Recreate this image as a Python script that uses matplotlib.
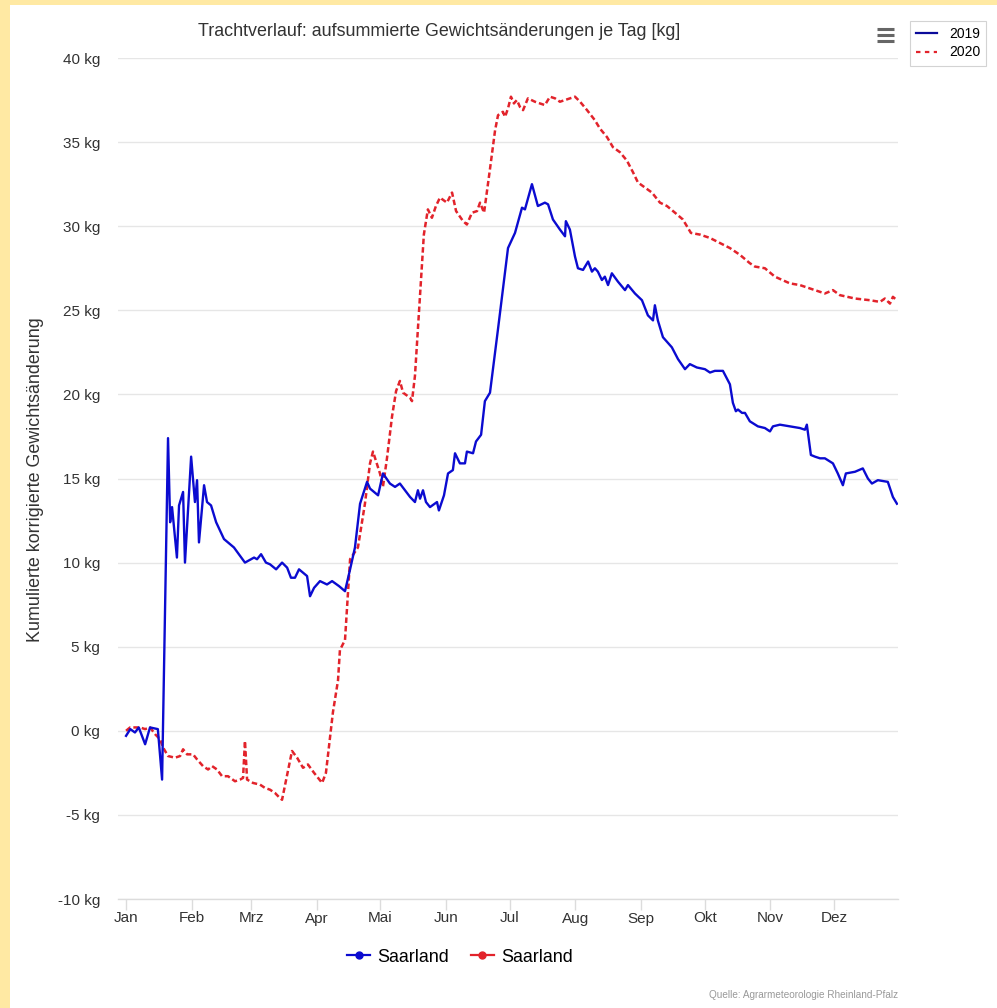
import matplotlib
matplotlib.use("Agg")
import matplotlib.pyplot as plt
from matplotlib.lines import Line2D
from matplotlib.patches import Rectangle

# ---------------- data ----------------
month_labels = ["Jan", "Feb", "Mrz", "Apr", "Mai", "Jun", "Jul", "Aug", "Sep", "Okt", "Nov", "Dez"]
month_days = [0, 31, 59, 90, 120, 151, 181, 212, 243, 273, 304, 334]
y_ticks = [-10, -5, 0, 5, 10, 15, 20, 25, 30, 35, 40]

days_2019 = [0, 2, 4.2, 6, 9, 11.3, 15, 17, 19.8, 20.8, 21.7, 24, 25, 26.9, 27.8, 30.7,
             32.5, 33.5, 34.4, 36.8, 38.2, 40.1, 42.5, 46.2, 50.9, 56.1, 60.4, 61.8,
             63.7, 66, 67.9, 70.8, 73.6, 76, 77.8, 79.7, 81.6, 85.4, 86.8, 88.7, 91.5,
             94.8, 97.2, 100.5, 103.3, 105.7, 108, 110.4, 113.7, 115.1, 118.9, 121.2,
             124.5, 126.9, 129.2, 134, 136.3, 137.7, 138.7, 140.1, 141.5, 143.4, 146.7,
             147.6, 150, 151.9, 154.2, 155.2, 157.5, 159.9, 160.8, 163.7, 165.1, 167.5,
             169.3, 171.7, 175.5, 180.2, 183.5, 186.8, 188.2, 191.5, 194.3, 197.6, 199.1,
             201.4, 204.7, 207.1, 207.5, 209.4, 211.8, 213.2, 215.6, 218, 219.8, 221.2,
             222.6, 224.5, 225.9, 227.4, 229.2, 232.1, 235.4, 236.8, 240.1, 243.4, 246.2,
             248.6, 249.5, 250.9, 253.3, 257.5, 260.4, 263.7, 266, 269.3, 273.1, 275.5,
             277.8, 281.6, 284.9, 286.3, 287.7, 288.7, 290.6, 292, 294.3, 298.1, 301.4,
             303.8, 305.2, 308.5, 313.2, 317.9, 320.3, 321.2, 323.1, 325, 327.4, 329.7,
             333.5, 335.8, 338.2, 339.6, 343.9, 347.6, 350, 351.9, 354.7, 359.4, 361.8, 363.7]
vals_2019 = [-0.3, 0.1, -0.1, 0.2, -0.8, 0.2, 0.1, -2.9, 17.4, 12.4, 13.3, 10.3, 13.4,
             14.2, 10.0, 16.3, 13.6, 14.9, 11.2, 14.6, 13.6, 13.4, 12.4, 11.4, 10.9, 10.0,
             10.3, 10.2, 10.5, 10.0, 9.9, 9.6, 10.0, 9.7, 9.1, 9.1, 9.6, 9.2, 8.0, 8.5,
             8.9, 8.7, 8.9, 8.6, 8.3, 9.6, 10.9, 13.5, 14.8, 14.4, 14.0, 15.3, 14.7, 14.5,
             14.7, 13.9, 13.6, 14.3, 13.8, 14.3, 13.6, 13.3, 13.6, 13.1, 14.0, 15.3, 15.5,
             16.5, 15.9, 15.9, 16.6, 16.5, 17.2, 17.6, 19.6, 20.1, 23.9, 28.7, 29.6, 31.1,
             31.0, 32.5, 31.2, 31.4, 31.3, 30.4, 29.8, 29.4, 30.3, 29.8, 28.2, 27.5, 27.4,
             27.9, 27.3, 27.5, 27.3, 26.8, 27.0, 26.5, 27.2, 26.7, 26.2, 26.5, 26.0, 25.6,
             24.7, 24.4, 25.3, 24.4, 23.4, 22.8, 22.1, 21.5, 21.8, 21.6, 21.5, 21.3, 21.4,
             21.4, 20.6, 19.5, 19.0, 19.1, 18.9, 18.9, 18.4, 18.1, 18.0, 17.8, 18.1, 18.2,
             18.1, 18.0, 17.9, 18.2, 16.4, 16.3, 16.2, 16.2, 15.9, 15.3, 14.6, 15.3, 15.4,
             15.6, 15.0, 14.7, 14.9, 14.8, 13.9, 13.5]

days_2020 = [0, 1.9, 4.2, 6.6, 9, 11.3, 13.7, 16, 17.5, 19.8, 23.1, 25.5, 26.9, 28.8,
             31.6, 33.5, 36.3, 38.7, 40.6, 42.9, 45.3, 48.1, 51.4, 53.8, 55.2, 56.1, 57.1,
             59.9, 63.2, 65.6, 67.9, 70.3, 72.6, 73.6, 78.3, 80.7, 83.5, 85.8, 88.7, 92.5,
             94.3, 97.6, 100, 100.9, 103.3, 105.7, 109.4, 112.7, 115.1, 116.5, 119.8,
             121.2, 123.1, 125.5, 127.4, 129.2, 130.7, 134, 134.9, 136.3, 137.7, 138.7,
             140.5, 142.4, 144.3, 146.2, 148.1, 151.4, 153.8, 155.7, 159, 160.8, 163.2,
             165.6, 167, 168.9, 171.7, 174.1, 175.5, 177.8, 178.8, 180.2, 181.6, 183,
             184.4, 185.8, 187.3, 189.6, 192.9, 197.6, 200, 202.4, 204.7, 207.1, 209.4,
             211.8, 214.2, 217.5, 221.2, 223.6, 226.9, 229.7, 233, 236.3, 239.2, 241.5,
             244.8, 248.1, 251.9, 255.2, 259, 262.7, 266.5, 270.8, 275.5, 280.2, 284.9,
             289.6, 294.3, 296.7, 301.4, 306.1, 313.2, 317.9, 325, 329.7, 333.5, 336.8,
             343.9, 350.9, 355.7, 358, 360.4, 361.8, 363.7]
vals_2020 = [0.0, 0.2, 0.2, 0.2, 0.1, 0.2, -0.2, -0.5, -1.0, -1.5, -1.6, -1.5, -1.1,
             -1.4, -1.4, -1.7, -2.1, -2.3, -2.1, -2.3, -2.7, -2.7, -3.0, -2.9, -2.8, -0.6,
             -2.9, -3.1, -3.2, -3.4, -3.5, -3.7, -4.0, -4.1, -1.2, -1.6, -2.2, -2.0, -2.5,
             -3.1, -2.5, 1.1, 3.0, 4.8, 5.4, 10.2, 10.9, 13.5, 15.9, 16.6, 15.3, 14.5, 16.2,
             18.7, 20.2, 20.8, 20.1, 19.8, 19.6, 21.1, 23.9, 26.0, 29.5, 31.0, 30.5, 31.2,
             31.7, 31.4, 32.0, 30.9, 30.3, 30.1, 30.8, 30.9, 31.4, 30.8, 33.4, 35.7, 36.6,
             36.8, 36.5, 37.0, 37.7, 37.3, 37.5, 37.1, 36.9, 37.6, 37.4, 37.2, 37.7, 37.6,
             37.4, 37.5, 37.6, 37.7, 37.4, 36.9, 36.3, 35.8, 35.3, 34.7, 34.4, 33.9, 33.2,
             32.6, 32.3, 32.0, 31.4, 31.2, 30.8, 30.4, 29.6, 29.5, 29.3, 29.0, 28.7, 28.3,
             27.8, 27.6, 27.5, 27.0, 26.6, 26.5, 26.2, 26.0, 26.2, 25.9, 25.7, 25.6, 25.5,
             25.7, 25.4, 25.8, 25.6]

series_names = ["2019", "2020"]
station_name = "Saarland"
title_text = "Trachtverlauf: aufsummierte Gewichtsänderungen je Tag [kg]"
ylabel_text = "Kumulierte korrigierte Gewichtsänderung"
source_text = "Quelle: Agrarmeteorologie Rheinland-Pfalz"

# ---------------- styling ----------------
W, H = 997, 1008
BLUE = "#0b0bd0"
RED = "#e2232b"
plt.rcParams["font.family"] = ["Liberation Sans", "DejaVu Sans"]

fig = plt.figure(figsize=(W / 100, H / 100), dpi=100)
fig.patch.set_facecolor("#ffe9a3")
fig.patches.append(Rectangle((10 / W, 0), 1 - 10 / W, 1 - 5 / H, transform=fig.transFigure,
                             facecolor="white", edgecolor="none", zorder=-10))

left, right = 118 / W, 898 / W
top, bottom = 1 - 58 / H, 1 - 899 / H
ax = fig.add_axes([left, bottom, right - left, top - bottom])
ax.set_facecolor("none")
ax.set_zorder(1)

dash = (0, (2.2, 1.2))
ax.plot(days_2019, vals_2019, color=BLUE, lw=1.7, solid_joinstyle="round", zorder=3)
ax.plot(days_2020, vals_2020, color=RED, lw=1.8, linestyle=dash, zorder=2)

ax.set_xlim(-3.8, 364.2)
ax.set_ylim(-10, 40)
ax.set_yticks(y_ticks)
ax.set_yticklabels([f"{v} kg" for v in y_ticks])
ax.set_xticks(month_days)
ax.set_xticklabels(month_labels)
ax.grid(axis="y", color="#e6e6e6", lw=1)
ax.set_axisbelow(True)
for s in ["top", "right", "left"]:
    ax.spines[s].set_visible(False)
ax.spines["bottom"].set_color("#dcdcdc")
ax.spines["bottom"].set_linewidth(1)
ax.tick_params(axis="y", length=0, pad=13, labelsize=11, labelcolor="#333333")
ax.tick_params(axis="x", length=8, color="#dcdcdc", width=1, pad=1, labelsize=11,
               labelcolor="#333333")

fig.text(439 / W, 1 - 31 / H, title_text, ha="center", va="center", fontsize=12.9, color="#333333")
fig.text(36 / W, 1 - 480 / H, ylabel_text, rotation=90, ha="center", va="center",
         fontsize=12.9, color="#333333")
fig.text(898 / W, 1 - 995 / H, source_text, ha="right", va="center", fontsize=7.2, color="#999999")

# hamburger menu icon
for yy in [29, 35, 41]:
    fig.lines.append(Line2D([877 / W, 894 / W], [1 - yy / H, 1 - yy / H], transform=fig.transFigure,
                            color="#666666", lw=2.2, solid_capstyle="butt"))

# top-right legend
h_top = [Line2D([], [], color="#0b0b9a", lw=1.6),
         Line2D([], [], color=RED, lw=1.6, linestyle=(0, (2, 2)))]
leg1 = fig.legend(h_top, series_names, loc="upper left", bbox_to_anchor=(910 / W, 1 - 21 / H),
                  fontsize=10, frameon=True, fancybox=False, handlelength=1.5, handletextpad=0.85,
                  borderpad=0.45, labelspacing=0.3, borderaxespad=0)
leg1.get_frame().set_edgecolor("#c8c8c8")
leg1.get_frame().set_linewidth(0.8)

# bottom legend
h_bot = [Line2D([], [], color=BLUE, lw=1.6, marker="o", markersize=5),
         Line2D([], [], color=RED, lw=1.6, marker="o", markersize=5)]
fig.legend(h_bot, [station_name, station_name], loc="center", ncol=2,
           bbox_to_anchor=(460 / W, 1 - 957 / H), fontsize=12.9, frameon=False,
           handlelength=1.3, handletextpad=0.4, columnspacing=1.2)

fig.savefig("out.png", dpi=100, facecolor=fig.get_facecolor())
